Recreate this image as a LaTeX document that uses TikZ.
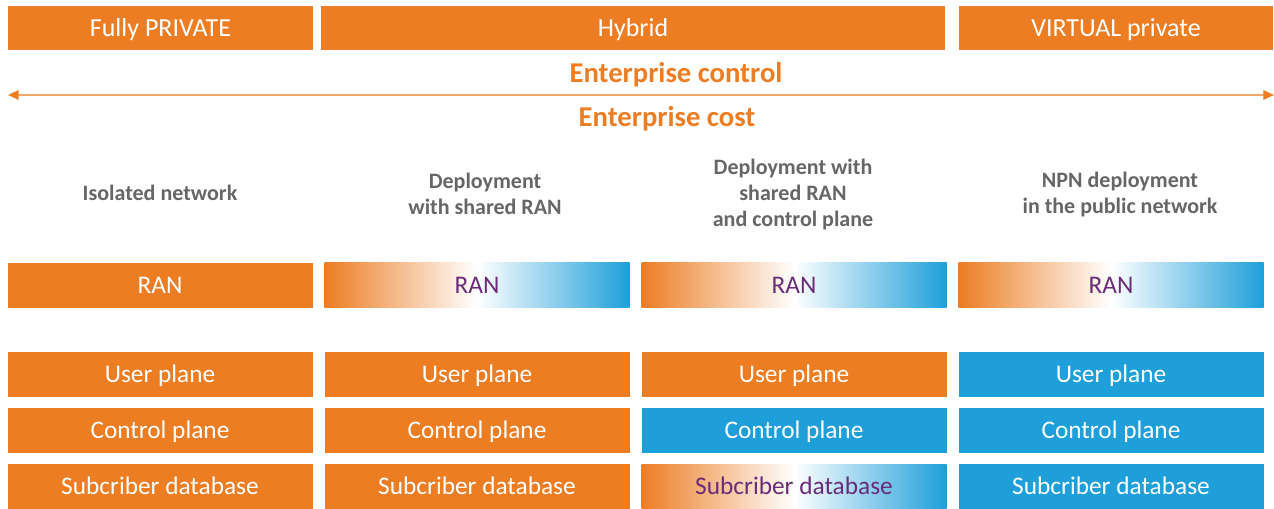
\documentclass[tikz,border=0pt]{standalone}
\usepackage{fontspec}
\setmainfont{Carlito}
\usetikzlibrary{arrows.meta}
\definecolor{orng}{HTML}{EC7D23}
\definecolor{lorng}{HTML}{F2A66A}
\definecolor{blu}{HTML}{1E9FDA}
\definecolor{purp}{HTML}{6A2C78}
\definecolor{gry}{HTML}{666666}
\tikzset{
  box/.style={rectangle, inner sep=0pt, minimum width=305\ux, minimum height=45\ux,
    font=\fontsize{19}{21}\selectfont, text=white, text height=12.2pt, text depth=0pt},
  obox/.style={box, fill=orng},
  bbox/.style={box, fill=blu},
  gbox/.style={box, left color=orng, right color=blu, middle color=white, text=purp},
  head/.style={rectangle, inner sep=0pt, minimum height=44\ux, fill=orng, text=white,
    font=\fontsize{19.5}{21}\selectfont, text height=12.5pt, text depth=0pt},
  colhead/.style={align=center, text=gry, font=\bfseries\fontsize{16.5}{19.5}\selectfont},
  title/.style={text=orng, font=\bfseries\fontsize{21.5}{23}\selectfont, text height=13.8pt, text depth=0pt}
}
\newcommand{\ux}{pt*0.75}
\begin{document}
\begin{tikzpicture}[x=0.75pt, y=-0.75pt]
\useasboundingbox (0,0) rectangle (1274,509);
% top banners
\node[head, minimum width=305\ux] (fp) at (160.5,28) {Fully PRIVATE};
\node[head, minimum width=624\ux] (hy) at (633,28) {Hybrid};
\node[head, minimum width=314\ux] (vp) at (1116,28) {VIRTUAL private};
% control / cost axis
\coordinate (al) at (8,95);
\coordinate (ar) at (1274,95);
\draw[lorng, line width=1.5pt, {Triangle[length=8pt,width=7pt,color=orng]}-{Triangle[length=8pt,width=7pt,color=orng]}] (al) -- (ar);
\node[title] (ctl) at (676,73) {Enterprise control};
\node[title] (cst) at (667,117) {Enterprise cost};
% column headings
\node[colhead] (h1) at (160,193) {Isolated network};
\node[colhead] (h2) at (485,194) {Deployment\\ with shared RAN};
\node[colhead] (h3) at (793,195) {Deployment with\\ shared RAN\\ and control plane};
\node[colhead] (h4) at (1120,195) {NPN deployment\\ in the public network};
% column 1
\node[obox] (r1) at (160,285.5) {RAN};
\node[obox] (u1) at (160,374.5) {User plane};
\node[obox] (c1) at (160,430.5) {Control plane};
\node[obox] (s1) at (160,486.5) {Subcriber database};
% column 2
\node[gbox] (r2) at (477,285.5) {RAN};
\node[obox] (u2) at (477,374.5) {User plane};
\node[obox] (c2) at (477,430.5) {Control plane};
\node[obox] (s2) at (477,486.5) {Subcriber database};
% column 3
\node[gbox] (r3) at (794,285.5) {RAN};
\node[obox] (u3) at (794,374.5) {User plane};
\node[bbox] (c3) at (794,430.5) {Control plane};
\node[gbox] (s3) at (794,486.5) {Subcriber database};
% column 4
\node[gbox] (r4) at (1111,285.5) {RAN};
\node[bbox] (u4) at (1111,374.5) {User plane};
\node[bbox] (c4) at (1111,430.5) {Control plane};
\node[bbox] (s4) at (1111,486.5) {Subcriber database};
\end{tikzpicture}
\end{document}
